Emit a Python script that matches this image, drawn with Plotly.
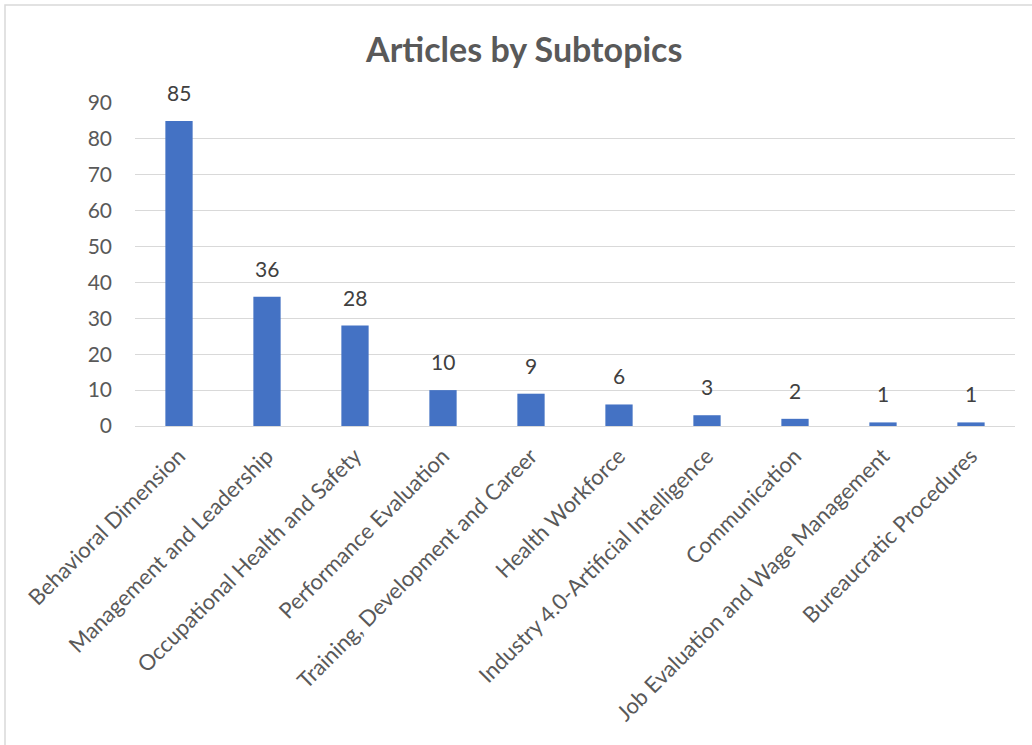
import plotly.graph_objects as go

subtopics = [
    "Behavioral Dimension",
    "Management and Leadership",
    "Occupational Health and Safety",
    "Performance Evaluation",
    "Training, Development and Career",
    "Health Workforce",
    "Industry 4.0-Artificial Intelligence",
    "Communication",
    "Job Evaluation and Wage Management",
    "Bureaucratic Procedures",
]
articles = [85, 36, 28, 10, 9, 6, 3, 2, 1, 1]
y_ticks = [0, 10, 20, 30, 40, 50, 60, 70, 80, 90]

W, H = 1032, 745
ML, MR, MT, MB = 135, 17, 103, 319
pw, ph = W - ML - MR, H - MT - MB

def px_x(p):
    return (p - ML) / pw

def px_y(p):
    return (H - MB - p) / ph

FONT = "Lato, sans-serif"

fig = go.Figure(
    go.Bar(
        x=subtopics,
        y=articles,
        marker=dict(color="#4472C4", line=dict(width=0)),
        width=0.31,
        cliponaxis=False,
    )
)

# value labels above each bar
for cat, val in zip(subtopics, articles):
    fig.add_annotation(
        x=cat,
        y=val,
        text=str(val),
        showarrow=False,
        xanchor="center",
        yanchor="bottom",
        yshift=14,
        font=dict(family=FONT, size=21, color="#404040"),
    )

fig.update_layout(
    width=W,
    height=H,
    margin=dict(l=ML, r=MR, t=MT, b=MB),
    paper_bgcolor="white",
    plot_bgcolor="white",
    showlegend=False,
    title=dict(
        text="<b>Articles by Subtopics</b>",
        x=0.508,
        xanchor="center",
        y=1 - 50 / H,
        yanchor="middle",
        font=dict(family=FONT, size=34, color="#595959"),
    ),
    xaxis=dict(
        tickangle=-45,
        tickfont=dict(family=FONT, size=22, color="#595959"),
        showgrid=False,
        showline=False,
        ticks="",
        ticklabelstandoff=12,
    ),
    yaxis=dict(
        range=[0, 90],
        tickvals=y_ticks,
        tickfont=dict(family=FONT, size=21, color="#595959"),
        showgrid=True,
        gridcolor="#d9d9d9",
        gridwidth=1,
        zeroline=True,
        zerolinecolor="#d9d9d9",
        zerolinewidth=1,
        ticks="",
        ticklabelstandoff=22,
    ),
    shapes=[
        dict(
            type="rect",
            xref="paper",
            yref="paper",
            x0=px_x(5),
            x1=px_x(W + 10),
            y0=px_y(H + 10),
            y1=px_y(5),
            line=dict(color="#d9d9d9", width=1.5),
            fillcolor="rgba(0,0,0,0)",
            layer="below",
        )
    ],
)

fig.write_html("out.html")
